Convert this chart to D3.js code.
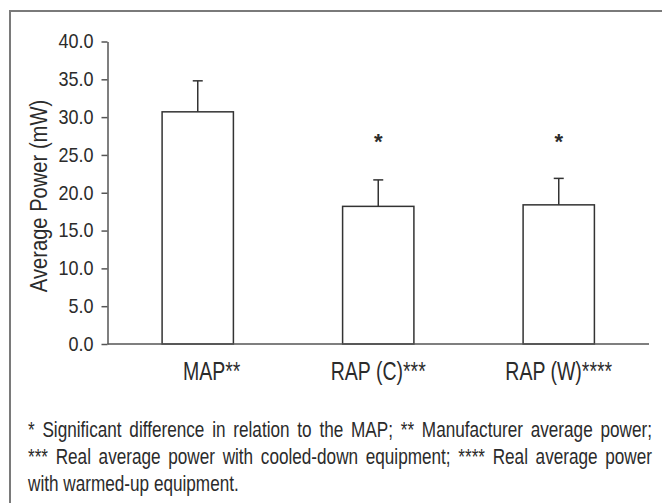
<!DOCTYPE html>
<html>
<head>
<meta charset="utf-8">
<script src="https://cdn.jsdelivr.net/npm/d3@7"></script>
<style>
  html, body { margin: 0; padding: 0; background: #fff; }
  svg { display: block; }
  text { font-family: "Liberation Sans", Arial, sans-serif; fill: #2b2b2b; }
</style>
</head>
<body>
<svg id="chart" width="662" height="503"></svg>
<script>
// ---- data ----
const categories = ["MAP**", "RAP (C)***", "RAP (W)****"];
const means = [30.7, 18.2, 18.4];
const errors = [4.1, 3.5, 3.5];
const significant = [false, true, true];
const yTicks = [0, 5, 10, 15, 20, 25, 30, 35, 40];
const yTitle = "Average Power (mW)";
const footnoteLines = [
  "* Significant difference in relation to the MAP; ** Manufacturer average power;",
  "*** Real average power with cooled-down equipment; **** Real average power",
  "with warmed-up equipment."
];

// ---- layout ----
const svg = d3.select("#chart");
const plotLeft = 107.5, plotRight = 649, plotTop = 41.5, plotBottom = 344;
const labelShift = [14, 0, 0];
const narrow = 0.78; // horizontal compression to mimic a condensed face
const tickNarrow = 0.9;

// frame
svg.append("path")
  .attr("d", `M10,520 L10,11 L670,11`)
  .attr("fill", "none").attr("stroke", "#7a7a7a").attr("stroke-width", 2);

const x = d3.scaleBand().domain(categories).range([plotLeft, plotRight])
  .paddingInner(0.605).paddingOuter(0.3025);
const y = d3.scaleLinear().domain([0, 40]).range([plotBottom, plotTop]);

// bars
svg.append("g").selectAll("rect").data(categories).join("rect")
  .attr("x", d => x(d))
  .attr("y", (d, i) => y(means[i]))
  .attr("width", x.bandwidth())
  .attr("height", (d, i) => y(0) - y(means[i]))
  .attr("fill", "#fff").attr("stroke", "#333").attr("stroke-width", 1.5);

// error bars
const eb = svg.append("g").attr("stroke", "#333").attr("stroke-width", 1.5);
categories.forEach((c, i) => {
  const cx = x(c) + x.bandwidth() / 2;
  eb.append("line").attr("x1", cx).attr("x2", cx)
    .attr("y1", y(means[i])).attr("y2", y(means[i] + errors[i]));
  eb.append("line").attr("x1", cx - 5).attr("x2", cx + 5)
    .attr("y1", y(means[i] + errors[i])).attr("y2", y(means[i] + errors[i]));
});

// significance stars
svg.append("g").selectAll("text").data(categories.filter((c, i) => significant[i])).join("text")
  .attr("x", d => x(d) + x.bandwidth() / 2)
  .attr("y", 149)
  .attr("text-anchor", "middle")
  .attr("font-size", 22).attr("font-weight", "bold")
  .text("*");

// y axis
const yAxis = svg.append("g").attr("transform", `translate(${plotLeft},0)`)
  .call(d3.axisLeft(y).tickValues(yTicks).tickFormat(d3.format(".1f")).tickSize(6).tickSizeOuter(0).tickPadding(8));
yAxis.attr("font-family", null).attr("font-size", null);
yAxis.select(".domain").attr("stroke", "#555").attr("stroke-width", 1.5);
yAxis.selectAll(".tick line").attr("stroke", "#555").attr("stroke-width", 1.5);
yAxis.selectAll(".tick text")
  .attr("font-size", 20).attr("fill", "#2b2b2b")
  .attr("x", -14 / tickNarrow)
  .attr("transform", `scale(${tickNarrow},1)`);

// x axis line
svg.append("line").attr("x1", plotLeft).attr("x2", plotRight).attr("y1", plotBottom).attr("y2", plotBottom)
  .attr("stroke", "#555").attr("stroke-width", 1.5);

// x labels
svg.append("g").selectAll("text").data(categories).join("text")
  .attr("transform", (d, i) => `translate(${x(d) + x.bandwidth() / 2 + labelShift[i]},380) scale(${narrow},1)`)
  .attr("text-anchor", "middle")
  .attr("font-size", 25)
  .text(d => d);

// y title
svg.append("text")
  .attr("transform", `translate(47,196) rotate(-90) scale(0.84,1)`)
  .attr("text-anchor", "middle")
  .attr("font-size", 24)
  .text(yTitle);

// footnote (justified)
const fnLeft = 28, fnRight = 652, fnBase = [437, 464, 491], fnSize = 22;
footnoteLines.forEach((line, li) => {
  const words = line.split(" ");
  const g = svg.append("g");
  const ts = words.map(w => g.append("text").attr("font-size", fnSize).text(w));
  const widths = ts.map(t => t.node().getComputedTextLength() * narrow);
  const space = li < footnoteLines.length - 1
    ? (fnRight - fnLeft - d3.sum(widths)) / (words.length - 1)
    : fnSize * 0.278 * narrow;
  let cx = fnLeft;
  ts.forEach((t, k) => {
    t.attr("transform", `translate(${cx},${fnBase[li]}) scale(${narrow},1)`);
    cx += widths[k] + space;
  });
});
</script>
</body>
</html>
